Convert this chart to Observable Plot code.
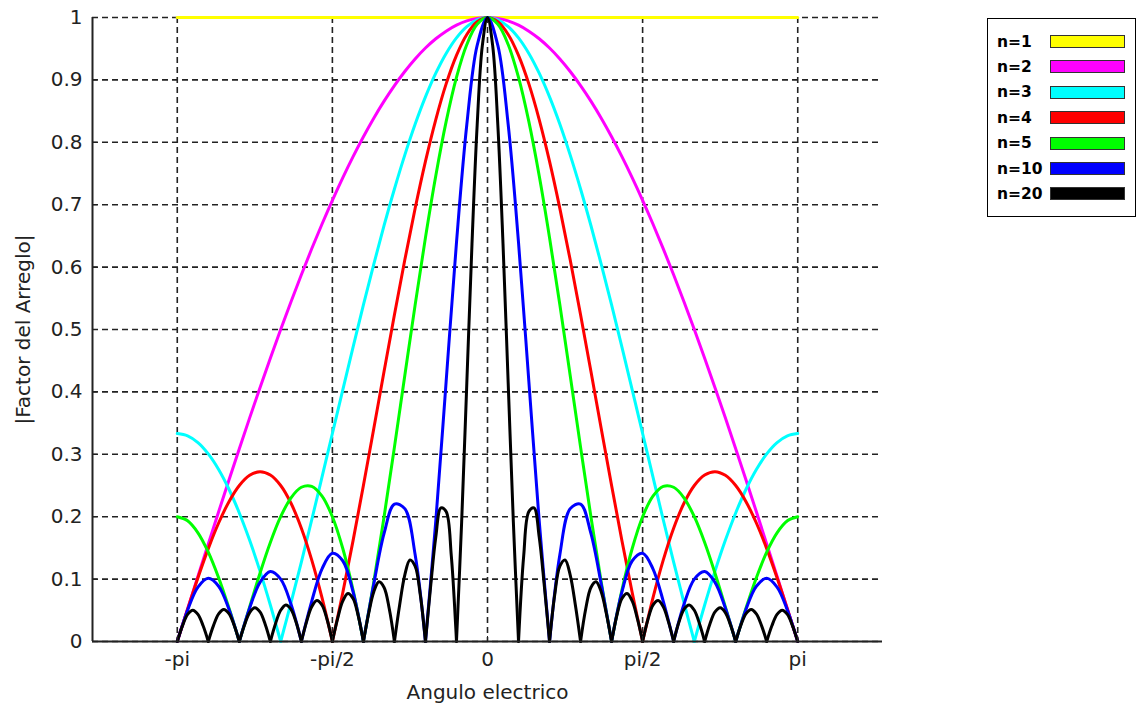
<!DOCTYPE html>
<html><head><meta charset="utf-8">
<script src="https://cdn.jsdelivr.net/npm/d3@7"></script>
<script src="https://cdn.jsdelivr.net/npm/@observablehq/plot@0.6"></script>
<style>
body{margin:0;background:#fff;}
#wrap{position:relative;width:1139px;height:707px;overflow:hidden;}
#wrap svg{position:absolute;left:0;top:0;}
#legend{position:absolute;left:987px;top:18px;width:149px;height:199px;border:1.5px solid #000;box-sizing:border-box;background:#fff;font:bold 15.5px "DejaVu Sans",sans-serif;color:#000;}
.lab{position:absolute;left:9px;line-height:20px;height:20px;}
.sw{position:absolute;left:62px;width:75px;height:13px;border:1.5px solid #333;box-sizing:border-box;}
</style>
</head><body>
<div id="wrap"><div id="legend"></div></div>
<script>
// sample angles (radians): psi30 for n=2..10, psi60 for n=20
const psi30 = d3.range(-30, 31).map(j => j * Math.PI / 30);
const psi60 = d3.range(-60, 61).map(k => k * Math.PI / 60);
const psiEnds = [-Math.PI, Math.PI];

const seriesLabels = ["n=1", "n=2", "n=3", "n=4", "n=5", "n=10", "n=20"];
const seriesColors = ["#ffff00", "#ff00ff", "#00ffff", "#ff0000", "#00ff00", "#0000ff", "#000000"];

const af1 = [1, 1];
const af2 = [0, .0523, .1045, .1564, .2079, .2588, .3090, .3584, .4067, .4540, .5, .5446, .5878, .6293, .6691, .7071, .7431, .7771, .8090, .8387, .8660, .8910, .9135, .9336, .9511, .9659, .9781, .9877, .9945, .9986,
  1, .9986, .9945, .9877, .9781, .9659, .9511, .9336, .9135, .8910, .8660, .8387, .8090, .7771, .7431, .7071, .6691, .6293, .5878, .5446, .5, .4540, .4067, .3584, .3090, .2588, .2079, .1564, .1045, .0523, 0];
const af3 = [.3333, .3297, .3188, .3007, .2757, .2440, .2060, .1621, .1128, .0585, 0, .0622, .1273, .1947, .2637, .3333, .4030, .4719, .5393, .6045, .6667, .7252, .7794, .8288, .8727, .9107, .9424, .9674, .9854, .9962,
  1, .9962, .9854, .9674, .9424, .9107, .8727, .8288, .7794, .7252, .6667, .6045, .5393, .4719, .4030, .3333, .2637, .1947, .1273, .0622, 0, .0585, .1128, .1621, .2060, .2440, .2757, .3007, .3188, .3297, .3333];
const af4 = [0, .0520, .1022, .1488, .1899, .2241, .2500, .2663, .2722, .2668, .2500, .2215, .1816, .1308, .0699, 0, .0777, .1616, .2500, .3411, .4330, .5237, .6113, .6938, .7694, .8365, .8936, .9394, .9728, .9931,
  1, .9931, .9728, .9394, .8936, .8365, .7694, .6938, .6113, .5237, .4330, .3411, .2500, .1616, .0777, 0, .0699, .1308, .1816, .2215, .2500, .2668, .2722, .2663, .2500, .2241, .1899, .1488, .1022, .0520, 0];
const af5 = [.2000, .1935, .1742, .1432, .1022, .0536, 0, .0554, .1095, .1587, .2000, .2303, .2472, .2486, .2331, .2000, .1494, .0823, 0, .0950, .2000, .3115, .4258, .5391, .6472, .7464, .8331, .9041, .9567, .9890,
  1, .9890, .9567, .9041, .8331, .7464, .6472, .5391, .4258, .3115, .2000, .0950, 0, .0823, .1494, .2000, .2331, .2486, .2472, .2303, .2000, .1587, .1095, .0554, 0, .0536, .1022, .1432, .1742, .1935, .2000];
const af10 = [0, .0501, .0871, .1012, .0885, .0518, 0, .0536, .0948, .1122, .1000, .0596, 0, .0643, .1165, .1414, .1294, .0795, 0, .0918, .1732, .2203, .2129, .1395, 0, .1932, .4165, .6393, .8285, .9553,
  1, .9553, .8285, .6393, .4165, .1932, 0, .1395, .2129, .2203, .1732, .0918, 0, .0795, .1294, .1414, .1165, .0643, 0, .0596, .1000, .1122, .0948, .0536, 0, .0518, .0885, .1012, .0871, .0501, 0];
const af20 = [0, .0250, .0434, .0502, .0435, .0252, 0, .0254, .0443, .0514, .0448, .0261, 0, .0265, .0464, .0541, .0474, .0277, 0, .0284, .0500, .0586, .0516, .0303, 0, .0315, .0557, .0658, .0583, .0345,
  0, .0363, .0647, .0770, .0688, .0411, 0, .0441, .0795, .0957, .0866, .0524, 0, .0581, .1065, .1307, .1208, .0749, 0, .0880, .1673, .2142, .2083, .1372, 0, .1915, .4142, .6373, .8273, .9549,
  1, .9549, .8273, .6373, .4142, .1915, 0, .1372, .2083, .2142, .1673, .0880, 0, .0749, .1208, .1307, .1065, .0581, 0, .0524, .0866, .0957, .0795, .0441, 0, .0411, .0688, .0770, .0647, .0363,
  0, .0345, .0583, .0658, .0557, .0315, 0, .0303, .0516, .0586, .0500, .0284, 0, .0277, .0474, .0541, .0464, .0265, 0, .0261, .0448, .0514, .0443, .0254, 0, .0252, .0435, .0502, .0434, .0250, 0];

const xDomain = [-4, 4];
const xTicks = [-Math.PI, -Math.PI / 2, 0, Math.PI / 2, Math.PI];
const xTickLabels = ["-pi", "-pi/2", "0", "pi/2", "pi"];
const yTicks = [0, 0.1, 0.2, 0.3, 0.4, 0.5, 0.6, 0.7, 0.8, 0.9, 1];
const xLabel = "Angulo electrico";
const yLabel = "|Factor del Arreglo|";

const seriesX = [psiEnds, psi30, psi30, psi30, psi30, psi30, psi60];
const seriesY = [af1, af2, af3, af4, af5, af10, af20];

// split each series into lobes at its nulls so the curve stays sharp there
const series = seriesLabels.map((lab, i) => {
  const out = [];
  let seg = 0;
  const xs = seriesX[i], ys = seriesY[i];
  xs.forEach((x, j) => {
    out.push({n: lab, seg, psi: x, af: ys[j]});
    if (ys[j] === 0 && j > 0 && j < xs.length - 1) {
      seg++;
      out.push({n: lab, seg, psi: x, af: ys[j]});
    }
  });
  return out;
});

const gridStyle = {stroke: "#222", strokeOpacity: 1, strokeWidth: 1.6, strokeDasharray: "6,4"};

const chart = Plot.plot({
  width: 1139, height: 707,
  marginLeft: 92, marginRight: 257, marginTop: 17, marginBottom: 66,
  style: {fontFamily: '"DejaVu Sans", sans-serif', fontSize: "20px", color: "#222", background: "transparent", overflow: "visible"},
  x: {domain: xDomain},
  y: {domain: [0, 1]},
  marks: [
    Plot.gridY(yTicks, gridStyle),
    Plot.gridX(xTicks, gridStyle),
    ...series.map((d, i) => Plot.line(d, {x: "psi", y: "af", z: "seg", stroke: seriesColors[i], strokeWidth: 3, strokeLinejoin: "round", curve: "catmull-rom"})),
    Plot.ruleY([0], {stroke: "#222", strokeWidth: 2}),
    Plot.ruleX([xDomain[0]], {stroke: "#222", strokeWidth: 2}),
    Plot.axisY(yTicks, {tickSize: 0, tickPadding: 10, tickFormat: d => String(d), label: null, fill: "#222"}),
    Plot.axisY(yTicks, {tickSize: 5, dx: 5, tickFormat: () => "", label: null, stroke: "#222"}),
    Plot.axisX(xTicks, {tickSize: 0, tickPadding: 10, tickFormat: d => xTickLabels[xTicks.indexOf(d)], label: null, fill: "#222"}),
    Plot.axisX(xTicks, {tickSize: 5, dy: -5, tickFormat: () => "", label: null, stroke: "#222"}),
    Plot.text([xLabel], {text: d => d, frameAnchor: "bottom", dy: 51, lineAnchor: "middle", textAnchor: "middle", fill: "#222", fontSize: 20}),
    Plot.text([yLabel], {text: d => d, frameAnchor: "left", dx: -69, rotate: -90, lineAnchor: "middle", textAnchor: "middle", fill: "#222", fontSize: 20})
  ]
});
document.getElementById("wrap").prepend(chart);

const legend = document.getElementById("legend");
seriesLabels.forEach((lab, i) => {
  const cy = 22.5 + i * 25.4;
  const t = document.createElement("div");
  t.className = "lab"; t.textContent = lab; t.style.top = (cy - 10) + "px";
  const s = document.createElement("div");
  s.className = "sw"; s.style.background = seriesColors[i]; s.style.top = (cy - 6.5) + "px";
  legend.appendChild(t); legend.appendChild(s);
});
</script>
</body></html>
